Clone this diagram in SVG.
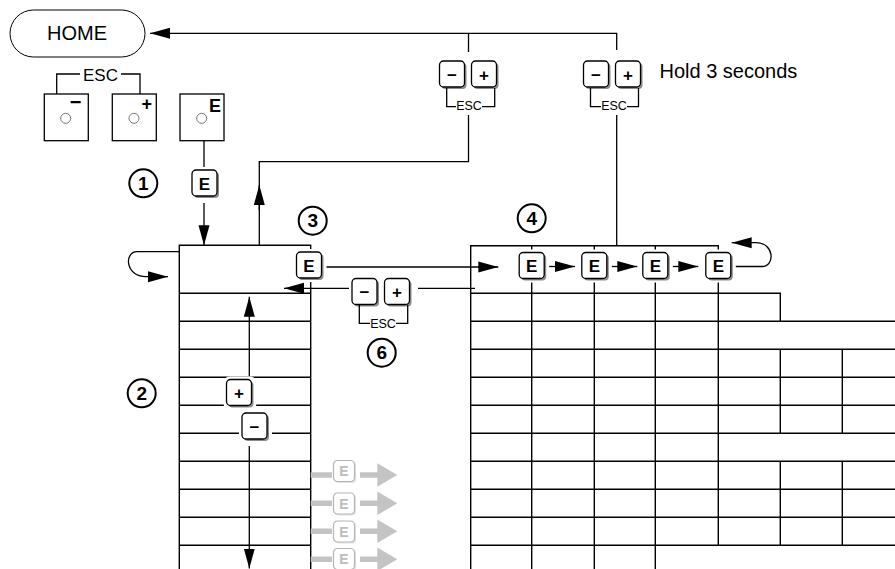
<svg xmlns="http://www.w3.org/2000/svg" xmlns:xlink="http://www.w3.org/1999/xlink" width="895" height="569" viewBox="0 0 895 569">
<style>
.ln{fill:none;stroke:#000;stroke-width:1.3}
.gr{fill:none;stroke:#000;stroke-width:1.4}
.t{font-family:"Liberation Sans",Arial,sans-serif;fill:#000}
.kb{font-family:"Liberation Sans",Arial,sans-serif;font-weight:bold;font-size:17px;text-anchor:middle;fill:#000}
.sm{font-family:"Liberation Sans",Arial,sans-serif;font-size:12.5px;text-anchor:middle;fill:#000}
.num{font-family:"Liberation Sans",Arial,sans-serif;font-weight:bold;font-size:19px;text-anchor:middle;fill:#000}
.cir{fill:#fff;stroke:#000;stroke-width:2}
.gbar{stroke:#c4c4c4;stroke-width:5.5;fill:none}
.gtx{font-family:"Liberation Sans",Arial,sans-serif;font-weight:bold;font-size:14px;text-anchor:middle;fill:#bdbdbd}
</style>
<defs>
<marker id="ah" markerUnits="userSpaceOnUse" markerWidth="22" markerHeight="12" refX="20" refY="6" orient="auto" viewBox="0 0 22 12"><path d="M0,0.5 L20,6 L0,11.5 Z" fill="#000"/></marker>
<g id="key">
<rect x="-3" y="-3" width="33" height="33" rx="6" fill="#fff"/>
<rect x="2" y="2" width="25" height="26" rx="4" fill="#8c8c8c"/>
<rect x="0" y="0" width="25" height="26" rx="4" fill="#fff" stroke="#000" stroke-width="1.3"/>
</g>
<g id="gkey">
<rect x="1.5" y="1.5" width="21" height="21" rx="4" fill="#e2e2e2"/>
<rect x="0" y="0" width="21" height="21" rx="4" fill="#fff" stroke="#b5b5b5" stroke-width="1.2"/>
</g>
</defs>
<rect width="895" height="569" fill="#fff"/>

<g id="grid-left">
<path class="gr" d="M179.3,569 V245.3 H310.7 V569"/>
<path class="gr" d="M179.3,293.3 H310.7 M179.3,321.3 H310.7 M179.3,349.3 H310.7 M179.3,377.3 H310.7 M179.3,405.3 H310.7 M179.3,433.3 H310.7 M179.3,461.3 H310.7 M179.3,489.3 H310.7 M179.3,517.3 H310.7 M179.3,545.3 H310.7"/>
</g>

<g id="grid-right">
<path class="gr" d="M470.7,569 V245.7 H718.3 V545.3"/>
<path class="gr" d="M531.7,245.7 V569 M594.3,245.7 V569 M655.3,245.7 V569"/>
<path class="gr" d="M470.7,293.3 H780.3 V321.3 M470.7,321.3 H895 M470.7,349.3 H895 M470.7,377.3 H895 M470.7,405.3 H895 M470.7,433.3 H895 M470.7,461.3 H895 M470.7,489.3 H895 M470.7,517.3 H895 M470.7,545.3 H895"/>
<path class="gr" d="M780.3,349.3 V433.3 M842.3,349.3 V433.3 M780.3,461.3 V545.3 M842.3,461.3 V545.3"/>
</g>

<g id="connectors">
<path class="ln" d="M616.7,50 V33.3 H150" marker-end="url(#ah)"/>
<path class="ln" d="M468.5,33.3 V52"/>
<path class="ln" d="M468.5,115 V161.7 H259.3 V245.3"/>
<path class="ln" d="M259.3,210 V185" marker-end="url(#ah)"/>
<path class="ln" d="M616.7,115 V245.7"/>
<path class="ln" d="M204,140.7 V167"/>
<path class="ln" d="M204,203 V245.3" marker-end="url(#ah)"/>
<path class="ln" d="M179.3,251.7 H137 C124,251.7 125,276.7 146,276.7 H168" marker-end="url(#ah)"/>
<path class="ln" d="M325,267 H498.3" marker-end="url(#ah)"/>
<path class="ln" d="M350,288.3 H284" marker-end="url(#ah)"/>
<path class="ln" d="M418,288.3 H475"/>
<path class="ln" d="M547,266.5 H575" marker-end="url(#ah)"/>
<path class="ln" d="M609.5,266.5 H637.3" marker-end="url(#ah)"/>
<path class="ln" d="M670.5,266.5 H698.3" marker-end="url(#ah)"/>
<path class="ln" d="M733.5,266.5 H762 C775,266.5 775,242.7 756,242.7 H731.7" marker-end="url(#ah)"/>
<path class="ln" d="M249.3,376 V296.7" marker-end="url(#ah)"/>
<path class="ln" d="M249.3,446 V568.5" marker-end="url(#ah)"/>
</g>

<g id="home">
<rect x="10" y="10" width="135" height="47" rx="23.5" fill="#fff" stroke="#000" stroke-width="1"/>
<text class="t" x="77" y="40" font-size="20" text-anchor="middle">HOME</text>
</g>

<g id="keypad">
<rect x="44.3" y="94" width="44" height="46.7" fill="#fff" stroke="#000" stroke-width="1.3"/>
<rect x="112.3" y="94" width="44" height="46.7" fill="#fff" stroke="#000" stroke-width="1.3"/>
<rect x="180" y="94" width="44" height="46.7" fill="#fff" stroke="#000" stroke-width="1.3"/>
<circle cx="65.7" cy="118.3" r="5" fill="#fff" stroke="#555" stroke-width="0.8"/>
<circle cx="134" cy="118.3" r="5" fill="#fff" stroke="#555" stroke-width="0.8"/>
<circle cx="201.7" cy="118.3" r="5" fill="#fff" stroke="#555" stroke-width="0.8"/>
<text class="t" x="75.7" y="108.5" font-size="20" font-weight="bold" text-anchor="middle">−</text>
<text class="t" x="146.7" y="109.5" font-size="18" font-weight="bold" text-anchor="middle">+</text>
<text class="t" x="215" y="111.7" font-size="18" font-weight="bold" text-anchor="middle">E</text>
<path class="ln" d="M56.7,94 V74 H80 M121,74 H140 V94"/>
<text class="t" x="100.5" y="80.5" font-size="17" text-anchor="middle">ESC</text>
</g>

<g id="key-e1">
<use xlink:href="#key" x="192" y="170"/>
<text class="kb" x="204.5" y="189.5">E</text>
</g>

<g id="esc-pair-1">
<use xlink:href="#key" x="439.5" y="61"/>
<use xlink:href="#key" x="471.5" y="61"/>
<text class="kb" x="452" y="80.5" font-size="20">−</text>
<text class="kb" x="484" y="80.5" font-size="19">+</text>
<path class="ln" d="M446.7,88 V106.7 H456 M482,106.7 H494.7 V88"/>
<text class="sm" x="469" y="110">ESC</text>
</g>

<g id="esc-pair-2">
<use xlink:href="#key" x="583.5" y="61"/>
<use xlink:href="#key" x="615.5" y="61"/>
<text class="kb" x="596" y="80.5" font-size="20">−</text>
<text class="kb" x="628" y="80.5" font-size="19">+</text>
<path class="ln" d="M590.5,88 V106.7 H601 M627,106.7 H638.5 V88"/>
<text class="sm" x="614" y="110">ESC</text>
<text class="t" x="659.5" y="77.5" font-size="20">Hold 3 seconds</text>
</g>

<g id="key-e3">
<use xlink:href="#key" x="296.5" y="252"/>
<text class="kb" x="309" y="271.5">E</text>
</g>

<g id="esc-pair-6">
<use xlink:href="#key" x="352" y="278.5"/>
<use xlink:href="#key" x="384.5" y="278.5"/>
<text class="kb" x="364.5" y="298" font-size="20">−</text>
<text class="kb" x="397" y="298" font-size="19">+</text>
<path class="ln" d="M359.3,305 V323.3 H370 M396,323.3 H407.7 V305"/>
<text class="sm" x="383" y="327.5">ESC</text>
</g>

<g id="menu-e-keys">
<use xlink:href="#key" x="519.2" y="252.5"/>
<text class="kb" x="531.7" y="272">E</text>
<use xlink:href="#key" x="581.8" y="252.5"/>
<text class="kb" x="594.3" y="272">E</text>
<use xlink:href="#key" x="642.8" y="252.5"/>
<text class="kb" x="655.3" y="272">E</text>
<use xlink:href="#key" x="705.8" y="252.5"/>
<text class="kb" x="718.3" y="272">E</text>
</g>

<g id="scroll-keys">
<use xlink:href="#key" x="226.5" y="379.5"/>
<text class="kb" x="239" y="399" font-size="19">+</text>
<use xlink:href="#key" x="242" y="413"/>
<text class="kb" x="254.5" y="432.5" font-size="20">−</text>
</g>

<g id="gray-keys">
<path class="gbar" d="M310.7,475 H332 M360,475 H378 M310.7,503.3 H332 M360,503.3 H378 M310.7,531.3 H332 M360,531.3 H378 M310.7,559.3 H332 M360,559.3 H378"/>
<path fill="#c4c4c4" d="M377.3,463.3 L397.3,475 L377.3,486.7 Z M377.3,491.6 L397.3,503.3 L377.3,515 Z M377.3,519.6 L397.3,531.3 L377.3,543 Z M377.3,547.6 L397.3,559.3 L377.3,571 Z"/>
<use xlink:href="#gkey" x="333.5" y="460.5"/>
<text class="gtx" x="344" y="476">E</text>
<use xlink:href="#gkey" x="333.5" y="493"/>
<text class="gtx" x="344" y="508.5">E</text>
<use xlink:href="#gkey" x="333.5" y="521"/>
<text class="gtx" x="344" y="536.5">E</text>
<use xlink:href="#gkey" x="333.5" y="548.5"/>
<text class="gtx" x="344" y="564">E</text>
</g>

<g id="num-1"><circle class="cir" cx="143.3" cy="183.3" r="14"/><text class="num" x="143.3" y="190">1</text></g>
<g id="num-2"><circle class="cir" cx="141.7" cy="393.3" r="14"/><text class="num" x="141.7" y="400">2</text></g>
<g id="num-3"><circle class="cir" cx="312.7" cy="220.7" r="14"/><text class="num" x="312.7" y="227.4">3</text></g>
<g id="num-4"><circle class="cir" cx="531.7" cy="218.3" r="14"/><text class="num" x="531.7" y="225">4</text></g>
<g id="num-6"><circle class="cir" cx="381.7" cy="352.7" r="14"/><text class="num" x="381.7" y="359.4">6</text></g>
</svg>
